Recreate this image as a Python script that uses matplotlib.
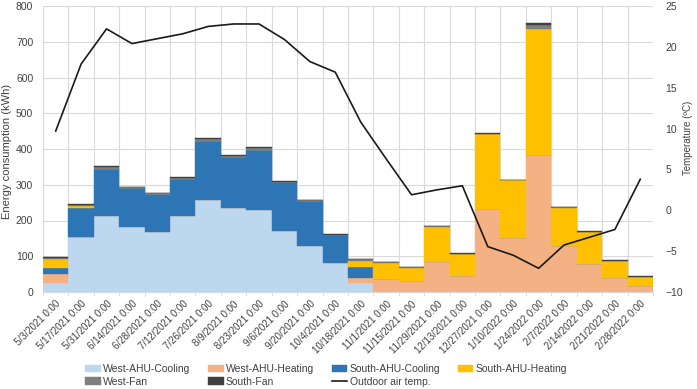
import numpy as np
import matplotlib
matplotlib.use('Agg')
from matplotlib import pyplot as plt

plt.rcParams['font.family'] = ['Liberation Sans', 'DejaVu Sans']

dates = ['5/3/2021 0:00', '5/17/2021 0:00', '5/31/2021 0:00', '6/14/2021 0:00',
         '6/28/2021 0:00', '7/12/2021 0:00', '7/26/2021 0:00', '8/9/2021 0:00',
         '8/23/2021 0:00', '9/6/2021 0:00', '9/20/2021 0:00', '10/4/2021 0:00',
         '10/18/2021 0:00', '11/1/2021 0:00', '11/15/2021 0:00', '11/29/2021 0:00',
         '12/13/2021 0:00', '12/27/2021 0:00', '1/10/2022 0:00', '1/24/2022 0:00',
         '2/7/2022 0:00', '2/14/2022 0:00', '2/21/2022 0:00', '2/28/2022 0:00']

# energy (kWh)
west_cooling = [24, 150, 212, 182, 168, 212, 256, 236, 229, 171, 128, 80,
                26, 0, 0, 0, 0, 0, 0, 0, 0, 0, 0, 0]
west_heating = [25, 3, 0, 0, 0, 0, 0, 0, 0, 0, 0, 0,
                12, 35, 31, 85, 45, 231, 152, 382, 129, 77, 40, 18]
south_cooling = [17, 81, 131, 110, 106, 104, 167, 141, 169, 136, 126, 79,
                 33, 0, 0, 0, 0, 0, 0, 0, 0, 0, 0, 0]
south_heating = [26, 6, 0, 0, 0, 0, 0, 0, 0, 0, 0, 0,
                 17, 45, 37, 96, 61, 210, 160, 354, 105, 91, 47, 24]
west_fan = [4, 3, 6, 2, 3, 4, 6, 3, 4, 2, 2, 1, 3, 3, 2, 3, 1, 2, 1, 11, 3, 1, 1, 1]
south_fan = [3, 2, 3, 1, 1, 2, 3, 2, 3, 1, 2, 1, 1, 1, 1, 1, 1, 1, 1, 6, 2, 0.5, 1, 1]

# outdoor air temperature (C)
outdoor_temp = [9.7, 17.9, 22.2, 20.4, 21.0, 21.6, 22.5, 22.8, 22.8, 20.9, 18.2, 16.9,
                10.8, 6.3, 1.9, 2.5, 3.0, -4.45, -5.5, -7.1, -4.25, -3.3, -2.35, 3.8]

series = [
    ('West-AHU-Cooling', west_cooling, '#BDD7EE'),
    ('West-AHU-Heating', west_heating, '#F4B183'),
    ('South-AHU-Cooling', south_cooling, '#2E75B6'),
    ('South-AHU-Heating', south_heating, '#FFC000'),
    ('West-Fan', west_fan, '#7F7F7F'),
    ('South-Fan', south_fan, '#404040'),
]


def main():
    fig = plt.figure(figsize=(6.97, 3.89), dpi=100)
    ax = fig.add_axes([43 / 697, 1 - 292 / 389, 610 / 697, 286 / 389])

    x = np.arange(len(dates))
    bottom = np.zeros(len(dates))
    handles = {}
    for name, vals, col in series:
        vals = np.array(vals, dtype=float)
        h = ax.bar(x, vals, width=1.0, bottom=bottom, color=col,
                   edgecolor=col, linewidth=0.3, label=name)
        handles[name] = h
        bottom += vals

    ax.set_xlim(-0.5, len(dates) - 0.5)
    ax.set_ylim(0, 800)
    ax.set_yticks(np.arange(0, 801, 100))
    ax.set_xticks(x)
    ax.set_xticklabels(dates, rotation=45, ha='right', rotation_mode='anchor',
                       fontsize=7, color='#404040')
    ax.set_xticks(np.arange(-0.5, len(dates)), minor=True)
    ax.tick_params(axis='x', which='major', length=0, pad=5)
    ax.tick_params(axis='x', which='minor', length=3, color='#D9D9D9')
    ax.tick_params(axis='y', length=0, labelsize=7.5, labelcolor='#404040', pad=7)
    ax.set_axisbelow(True)
    ax.grid(True, which='major', axis='y', color='#D9D9D9', linewidth=0.8)
    ax.grid(True, which='minor', axis='x', color='#D9D9D9', linewidth=0.8)
    for s in ['top', 'left', 'right']:
        ax.spines[s].set_visible(False)
    ax.spines['bottom'].set_color('#D9D9D9')
    ax.set_ylabel('Energy consumption (kWh)', fontsize=8, color='#404040')
    ax.yaxis.set_label_coords(-0.05, 0.49)

    ax2 = ax.twinx()
    line, = ax2.plot(x, outdoor_temp, color='#1a1a1a', linewidth=1.2,
                     label='Outdoor air temp.')
    ax2.set_ylim(-10, 25)
    ax2.set_yticks(np.arange(-10, 26, 5))
    ax2.tick_params(axis='y', length=0, labelsize=7.5, labelcolor='#404040', pad=9)
    for s in ax2.spines.values():
        s.set_visible(False)
    ax2.set_ylabel('Temperature (ºC)', fontsize=7, color='#404040')
    ax2.yaxis.set_label_coords(1.049, 0.54)

    # row-major order for 4 columns
    order = ['West-AHU-Cooling', 'West-Fan', 'West-AHU-Heating', 'South-Fan',
             'South-AHU-Cooling', None, 'South-AHU-Heating']
    hs = []
    ls = []
    for n in order:
        if n is None:
            hs.append(line)
            ls.append('Outdoor air temp.')
        else:
            hs.append(handles[n])
            ls.append(n)
    fig.legend(hs, ls, ncol=4, loc='upper center', bbox_to_anchor=(0.468, 0.088),
               frameon=False, fontsize=7.5, handlelength=1.5, handleheight=0.7,
               handletextpad=0.2, columnspacing=1.7, labelspacing=0.25,
               labelcolor='#404040')

    plt.savefig('out.png', dpi=100)


if __name__ == '__main__':
    main()
